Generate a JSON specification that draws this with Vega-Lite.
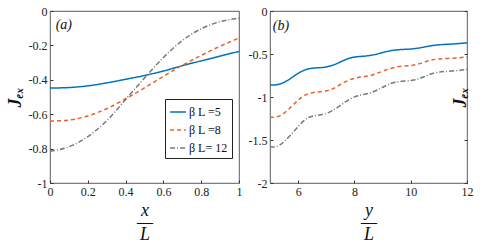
{
  "$schema": "https://vega.github.io/schema/vega-lite/v6.json",
  "padding": {"left": 5, "top": 4, "right": 4, "bottom": 2},
  "bounds": "flush",
  "spacing": 31,
  "config": {
    "font": "Liberation Serif",
    "view": {"stroke": "#333", "strokeWidth": 0.8},
    "axis": {
      "grid": false, "domain": false, "tickColor": "#333", "tickSize": -3, "labelPadding": 6, "labelOverlap": false, "labelFlush": false, "labelBound": false,
      "labelFont": "Liberation Serif", "labelFontSize": 12, "labelColor": "#222",
      "titleFont": "Liberation Serif", "titleColor": "#111", "titleFontWeight": "normal"
    }
  },
  "resolve": {"legend": {"color": "independent", "strokeDash": "independent"}},
  "datasets": {
    "a": [
      {"x": 0, "J": -0.448, "s": "β L =5"}, {"x": 0.1, "J": -0.445, "s": "β L =5"}, {"x": 0.2, "J": -0.435, "s": "β L =5"}, {"x": 0.3, "J": -0.418, "s": "β L =5"}, {"x": 0.4, "J": -0.397, "s": "β L =5"}, {"x": 0.5, "J": -0.375, "s": "β L =5"}, {"x": 0.6, "J": -0.349, "s": "β L =5"}, {"x": 0.7, "J": -0.318, "s": "β L =5"}, {"x": 0.8, "J": -0.29, "s": "β L =5"}, {"x": 0.9, "J": -0.262, "s": "β L =5"}, {"x": 1.0, "J": -0.235, "s": "β L =5"},
      {"x": 0, "J": -0.64, "s": "β L =8"}, {"x": 0.1, "J": -0.634, "s": "β L =8"}, {"x": 0.2, "J": -0.61, "s": "β L =8"}, {"x": 0.3, "J": -0.568, "s": "β L =8"}, {"x": 0.4, "J": -0.51, "s": "β L =8"}, {"x": 0.5, "J": -0.447, "s": "β L =8"}, {"x": 0.6, "J": -0.38, "s": "β L =8"}, {"x": 0.7, "J": -0.316, "s": "β L =8"}, {"x": 0.8, "J": -0.258, "s": "β L =8"}, {"x": 0.9, "J": -0.205, "s": "β L =8"}, {"x": 1.0, "J": -0.157, "s": "β L =8"},
      {"x": 0, "J": -0.815, "s": "β L= 12"}, {"x": 0.1, "J": -0.79, "s": "β L= 12"}, {"x": 0.2, "J": -0.73, "s": "β L= 12"}, {"x": 0.3, "J": -0.638, "s": "β L= 12"}, {"x": 0.4, "J": -0.515, "s": "β L= 12"}, {"x": 0.5, "J": -0.39, "s": "β L= 12"}, {"x": 0.6, "J": -0.27, "s": "β L= 12"}, {"x": 0.7, "J": -0.172, "s": "β L= 12"}, {"x": 0.8, "J": -0.103, "s": "β L= 12"}, {"x": 0.9, "J": -0.062, "s": "β L= 12"}, {"x": 1.0, "J": -0.042, "s": "β L= 12"}
    ],
    "b": [
      {"y": 5.0, "J": -0.862, "s": "β L =5"}, {"y": 5.4, "J": -0.858, "s": "β L =5"}, {"y": 5.8, "J": -0.77, "s": "β L =5"}, {"y": 6.1, "J": -0.7, "s": "β L =5"}, {"y": 6.45, "J": -0.66, "s": "β L =5"}, {"y": 7.0, "J": -0.66, "s": "β L =5"}, {"y": 7.4, "J": -0.61, "s": "β L =5"}, {"y": 7.7, "J": -0.56, "s": "β L =5"}, {"y": 8.0, "J": -0.53, "s": "β L =5"}, {"y": 8.5, "J": -0.525, "s": "β L =5"}, {"y": 9.0, "J": -0.485, "s": "β L =5"}, {"y": 9.4, "J": -0.448, "s": "β L =5"}, {"y": 10.1, "J": -0.445, "s": "β L =5"}, {"y": 10.6, "J": -0.41, "s": "β L =5"}, {"y": 11.0, "J": -0.39, "s": "β L =5"}, {"y": 11.5, "J": -0.385, "s": "β L =5"}, {"y": 12.0, "J": -0.37, "s": "β L =5"},
      {"y": 5.0, "J": -1.235, "s": "β L =8"}, {"y": 5.35, "J": -1.24, "s": "β L =8"}, {"y": 5.8, "J": -1.1, "s": "β L =8"}, {"y": 6.1, "J": -1.0, "s": "β L =8"}, {"y": 6.45, "J": -0.94, "s": "β L =8"}, {"y": 7.1, "J": -0.94, "s": "β L =8"}, {"y": 7.5, "J": -0.85, "s": "β L =8"}, {"y": 8.0, "J": -0.77, "s": "β L =8"}, {"y": 8.5, "J": -0.765, "s": "β L =8"}, {"y": 9.0, "J": -0.7, "s": "β L =8"}, {"y": 9.5, "J": -0.64, "s": "β L =8"}, {"y": 10.1, "J": -0.64, "s": "β L =8"}, {"y": 10.5, "J": -0.59, "s": "β L =8"}, {"y": 10.9, "J": -0.555, "s": "β L =8"}, {"y": 11.5, "J": -0.55, "s": "β L =8"}, {"y": 12.0, "J": -0.535, "s": "β L =8"},
      {"y": 5.0, "J": -1.575, "s": "β L= 12"}, {"y": 5.2, "J": -1.59, "s": "β L= 12"}, {"y": 5.5, "J": -1.53, "s": "β L= 12"}, {"y": 5.9, "J": -1.38, "s": "β L= 12"}, {"y": 6.2, "J": -1.27, "s": "β L= 12"}, {"y": 6.5, "J": -1.21, "s": "β L= 12"}, {"y": 7.0, "J": -1.21, "s": "β L= 12"}, {"y": 7.5, "J": -1.1, "s": "β L= 12"}, {"y": 8.0, "J": -0.98, "s": "β L= 12"}, {"y": 8.5, "J": -0.97, "s": "β L= 12"}, {"y": 9.0, "J": -0.89, "s": "β L= 12"}, {"y": 9.4, "J": -0.815, "s": "β L= 12"}, {"y": 10.1, "J": -0.815, "s": "β L= 12"}, {"y": 10.5, "J": -0.76, "s": "β L= 12"}, {"y": 10.9, "J": -0.707, "s": "β L= 12"}, {"y": 11.5, "J": -0.7, "s": "β L= 12"}, {"y": 12.0, "J": -0.68, "s": "β L= 12"}
    ],
    "la": [{"x": 0.03, "J": -0.08, "t": "(a)"}],
    "lb": [{"y": 5.1, "J": -0.17, "t": "(b)"}]
  },
  "hconcat": [
    {
      "width": 189, "height": 172,
      "encoding": {
        "x": {"field": "x", "type": "quantitative", "scale": {"domain": [0, 1], "nice": false},
          "axis": {"values": [0, 0.2, 0.4, 0.6, 0.8, 1], "labelOverlap": false, "labelExpr": "replace(format(datum.value,'~g'),'\u2212','-')",
            "title": ["x", "—", "L"], "titleFontSize": 18, "titleFontStyle": "italic", "titleLineHeight": 12, "titlePadding": 4}},
        "y": {"field": "J", "type": "quantitative", "scale": {"domain": [-1, 0], "nice": false},
          "axis": {"values": [0, -0.2, -0.4, -0.6, -0.8, -1], "labelOverlap": false, "labelExpr": "replace(format(datum.value,'~g'),'\u2212','-')",
            "title": "Jₑₓ", "titleFontSize": 18, "titleFontWeight": "bold", "titleFontStyle": "italic", "titlePadding": 4}}
      },
      "layer": [
        {
          "data": {"name": "a"},
          "mark": {"type": "line", "interpolate": "monotone"},
          "encoding": {
            "color": {"field": "s", "type": "nominal",
              "scale": {"domain": ["β L =5", "β L =8", "β L= 12"], "range": ["#0072BD", "#E8612A", "#7a7a7a"]},
              "legend": {"title": null, "orient": "none", "legendX": 115, "legendY": 88, "strokeColor": "#222", "fillColor": "white", "padding": 4,
                "labelFont": "Liberation Serif", "labelFontSize": 12, "labelColor": "#111", "symbolType": "stroke", "symbolSize": 250, "symbolStrokeWidth": 1.5, "rowPadding": 3, "labelOffset": 2}},
            "strokeDash": {"field": "s", "type": "nominal",
              "scale": {"domain": ["β L =5", "β L =8", "β L= 12"], "range": [[1, 0], [4, 3], [5, 2, 1, 2]]},
              "legend": {"title": null, "orient": "none", "legendX": 115, "legendY": 88, "strokeColor": "#222", "fillColor": "white", "padding": 4,
                "labelFont": "Liberation Serif", "labelFontSize": 12, "labelColor": "#111", "symbolType": "stroke", "symbolSize": 250, "symbolStrokeWidth": 1.5, "rowPadding": 3, "labelOffset": 2}},
            "strokeWidth": {"field": "s", "type": "nominal",
              "scale": {"domain": ["β L =5", "β L =8", "β L= 12"], "range": [1.5, 1.5, 1]}, "legend": null}
          }
        },
        {
          "data": {"name": "la"},
          "mark": {"type": "text", "align": "left", "fontSize": 14, "fontStyle": "italic", "font": "Liberation Serif", "color": "#111"},
          "encoding": {"text": {"field": "t"}}
        }
      ]
    },
    {
      "width": 197, "height": 172,
      "layer": [
        {
          "encoding": {
            "x": {"field": "y", "type": "quantitative", "scale": {"domain": [5, 12], "nice": false},
              "axis": {"values": [6, 8, 10, 12], "labelOverlap": false, "title": ["y", "—", "L"], "titleFontSize": 18, "titleFontStyle": "italic", "titleLineHeight": 12, "titlePadding": 4}},
            "y": {"field": "J", "type": "quantitative", "scale": {"domain": [-2, 0], "nice": false},
              "axis": {"orient": "left", "values": [0, -0.5, -1, -1.5, -2], "labelOverlap": false, "labelExpr": "replace(format(datum.value,'~g'),'\u2212','-')", "title": null}}
          },
          "layer": [
            {
              "data": {"name": "b"},
              "mark": {"type": "line", "interpolate": "basis"},
              "encoding": {
                "color": {"field": "s", "type": "nominal",
                  "scale": {"domain": ["β L =5", "β L =8", "β L= 12"], "range": ["#0072BD", "#E8612A", "#7a7a7a"]}, "legend": null},
                "strokeDash": {"field": "s", "type": "nominal",
                  "scale": {"domain": ["β L =5", "β L =8", "β L= 12"], "range": [[1, 0], [4, 3], [5, 2, 1, 2]]}, "legend": null},
                "strokeWidth": {"field": "s", "type": "nominal",
                  "scale": {"domain": ["β L =5", "β L =8", "β L= 12"], "range": [1.5, 1.5, 1]}, "legend": null}
              }
            },
            {
              "data": {"name": "lb"},
              "mark": {"type": "text", "align": "left", "fontSize": 14, "fontStyle": "italic", "font": "Liberation Serif", "color": "#111"},
              "encoding": {"text": {"field": "t"}}
            }
          ]
        },
        {
          "data": {"values": [{"J2": -1}]},
          "mark": {"type": "point", "opacity": 0},
          "encoding": {
            "y": {"field": "J2", "type": "quantitative", "scale": {"domain": [-2, 0], "nice": false}, "axis": {"orient": "right", "title": "Jₑₓ", "titleFontSize": 18, "titleFontWeight": "bold", "titleFontStyle": "italic", "titleAngle": 270, "titlePadding": 2, "labels": false, "ticks": true, "values": [0, -0.5, -1, -1.5, -2]}}
          }
        }
      ],
      "resolve": {"scale": {"y": "independent"}}
    }
  ]
}
